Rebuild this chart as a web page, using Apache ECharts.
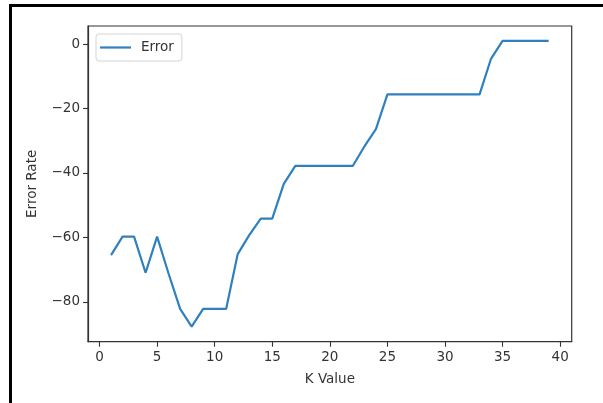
<!DOCTYPE html>
<html>
<head>
<meta charset="utf-8">
<script src="https://cdn.jsdelivr.net/npm/echarts@6/dist/echarts.min.js"></script>
<style>
html,body{margin:0;padding:0;background:#fff;}
#chart{width:603px;height:403px;}
</style>
</head>
<body>
<div id="chart"></div>
<script>
var kValues = [1,2,3,4,5,6,7,8,9,10,11,12,13,14,15,16,17,18,19,20,21,22,23,24,25,26,27,28,29,30,31,32,33,34,35,36,37,38,39];
var errorValues = [-65.5,-59.8,-59.8,-71,-59.8,-71.3,-82.2,-87.7,-82.2,-82.2,-82.2,-65.2,-59.3,-54.2,-54.2,-43.4,-37.8,-37.8,-37.8,-37.8,-37.8,-37.8,-31.8,-26.4,-15.6,-15.6,-15.6,-15.6,-15.6,-15.6,-15.6,-15.6,-15.6,-4.5,1.0,1.0,1.0,1.0,1.0];
var xTicks = [0,5,10,15,20,25,30,35,40];
var yTicks = [-80,-60,-40,-20,0];
var seriesName = 'Error';

var font = 'DejaVu Sans';
var lineColor = '#2f80bf';
var chart = echarts.init(document.getElementById('chart'), null, {renderer:'canvas'});
var pts = kValues.map(function(k,i){return [k, errorValues[i]];});
chart.setOption({
  animation:false,
  backgroundColor:'#fff',
  grid:{left:88, right:31.3, top:26, bottom:61.3, show:true, borderColor:'#333', borderWidth:1.2, backgroundColor:'transparent'},
  legend:{
    data:[{name:seriesName, icon:'rect', itemStyle:{color:lineColor}}], left:96, top:34, orient:'horizontal',
    backgroundColor:'rgba(255,255,255,0.8)', borderColor:'#d4d4d4', borderWidth:1, borderRadius:3,
    padding:[6.5,8,6.5,4], itemWidth:31, itemHeight:2.2,
    textStyle:{fontFamily:font, fontSize:13.5, color:'#333', padding:[0,0,0,5]}
  },
  xAxis:{
    type:'value', min:-1, max:41,
    name:'K Value', nameLocation:'middle', nameGap:31,
    nameTextStyle:{fontFamily:font, fontSize:13.5, color:'#333'},
    axisLine:{show:true, onZero:false, lineStyle:{color:'#333', width:1.2}},
    axisTick:{show:true, inside:false, length:5, customValues:xTicks, lineStyle:{color:'#333', width:1.1}},
    axisLabel:{show:true, margin:9, customValues:xTicks, fontFamily:font, fontSize:13.5, color:'#333'},
    splitLine:{show:false}
  },
  yAxis:{
    type:'value', min:-92.4, max:5.6,
    name:'Error Rate', nameLocation:'middle', nameGap:49, nameRotate:90,
    nameTextStyle:{fontFamily:font, fontSize:13.5, color:'#333'},
    axisLine:{show:true, onZero:false, lineStyle:{color:'#333', width:1.2}},
    axisTick:{show:true, inside:false, length:5, customValues:yTicks, lineStyle:{color:'#333', width:1.1}},
    axisLabel:{show:true, margin:8, customValues:yTicks, fontFamily:font, fontSize:13.5, color:'#333',
      formatter:function(v){return v<0 ? '\u2212'+Math.abs(v) : String(v);}},
    splitLine:{show:false}
  },
  series:[{
    name:seriesName, type:'line', data:pts, symbol:'none', showSymbol:false,
    lineStyle:{color:lineColor, width:2.2}, itemStyle:{color:lineColor}
  }],
  graphic:[
    {type:'rect', shape:{x:9, y:4, width:3, height:399}, style:{fill:'#000'}, silent:true},
    {type:'rect', shape:{x:9, y:4, width:594, height:3}, style:{fill:'#000'}, silent:true}
  ]
});
</script>
</body>
</html>
